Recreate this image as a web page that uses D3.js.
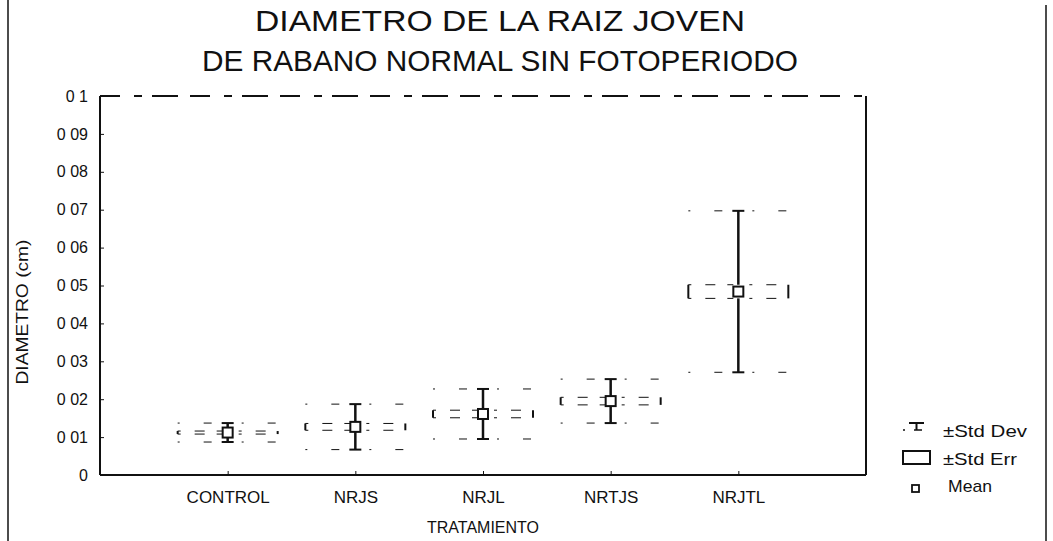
<!DOCTYPE html>
<html>
<head>
<meta charset="utf-8">
<script src="https://cdn.jsdelivr.net/npm/d3@7"></script>
<style>
  html, body { margin: 0; padding: 0; background: #fff; }
  svg { display: block; }
  text { font-family: "Liberation Sans", Arial, Helvetica, sans-serif; fill: #111; }
</style>
</head>
<body>
<svg id="chart" width="1053" height="541"></svg>
<script>
// ---- data ----
const titleLines = ["DIAMETRO DE LA RAIZ JOVEN", "DE RABANO NORMAL SIN FOTOPERIODO"];
const categories = ["CONTROL", "NRJS", "NRJL", "NRTJS", "NRJTL"];
const means  = [0.0112, 0.0127, 0.0161, 0.0195, 0.0484];
const stdErr = [0.0004, 0.0009, 0.0010, 0.0010, 0.0018];
const stdDev = [0.0025, 0.0060, 0.0066, 0.0058, 0.0213];
const yTickValues = [0, 0.01, 0.02, 0.03, 0.04, 0.05, 0.06, 0.07, 0.08, 0.09, 0.1];
const yTickLabels = ["0", "0 01", "0 02", "0 03", "0 04", "0 05", "0 06", "0 07", "0 08", "0 09", "0 1"];
const xAxisTitle = "TRATAMIENTO";
const yAxisTitle = "DIAMETRO (cm)";
const legendLabels = ["\u00b1Std Dev", "\u00b1Std Err", "Mean"];

// ---- layout ----
const svg = d3.select("#chart");
const plot = { left: 100, right: 866, top: 96, bottom: 475 };
const ink = "#111";

const x = d3.scalePoint().domain(categories).range([plot.left, plot.right]).padding(1);
const y = d3.scaleLinear().domain([0, 0.1]).range([plot.bottom, plot.top]);

// page border lines (scanned page)
svg.append("line").attr("x1", 8).attr("x2", 8).attr("y1", 0).attr("y2", 541)
  .attr("stroke", ink).attr("stroke-width", 1.5);
svg.append("line").attr("x1", 1046).attr("x2", 1046).attr("y1", 5).attr("y2", 541)
  .attr("stroke", ink).attr("stroke-width", 1.5);

// title
const titleWidths = [490, 596];
svg.append("g").selectAll("text").data(titleLines).join("text")
  .attr("x", 500).attr("y", (d, i) => 31 + i * 40)
  .attr("text-anchor", "middle").attr("font-size", 29)
  .attr("textLength", (d, i) => titleWidths[i]).attr("lengthAdjust", "spacingAndGlyphs")
  .text(d => d);

// frame
svg.append("line").attr("x1", plot.left).attr("x2", plot.left).attr("y1", plot.top).attr("y2", plot.bottom)
  .attr("stroke", ink).attr("stroke-width", 2);
svg.append("line").attr("x1", plot.right).attr("x2", plot.right).attr("y1", plot.top).attr("y2", plot.bottom)
  .attr("stroke", ink).attr("stroke-width", 2);
svg.append("line").attr("x1", plot.left).attr("x2", plot.right).attr("y1", plot.bottom).attr("y2", plot.bottom)
  .attr("stroke", ink).attr("stroke-width", 2);
svg.append("line").attr("x1", plot.left).attr("x2", plot.right).attr("y1", plot.top).attr("y2", plot.top)
  .attr("stroke", ink).attr("stroke-width", 2).attr("stroke-dasharray", "20,14,8,10,26,12");

// y axis (ticks inward, labels on the left)
const yAxis = d3.axisLeft(y).tickValues(yTickValues)
  .tickFormat((d, i) => yTickLabels[i]).tickSizeInner(-4).tickSizeOuter(0).tickPadding(12);
const gy = svg.append("g").attr("transform", `translate(${plot.left},0)`).call(yAxis);
gy.select(".domain").remove();
gy.selectAll("line").attr("stroke", ink);
gy.selectAll("text").attr("font-size", 16).attr("font-family", "Liberation Sans, Arial, sans-serif").attr("fill", ink);

// x axis
const xAxis = d3.axisBottom(x).tickSizeInner(-4).tickSizeOuter(0).tickPadding(16);
const gx = svg.append("g").attr("transform", `translate(0,${plot.bottom})`).call(xAxis);
gx.select(".domain").remove();
gx.selectAll("line").attr("stroke", ink);
gx.selectAll("text").attr("font-size", 17).attr("font-family", "Liberation Sans, Arial, sans-serif").attr("fill", ink);

// axis titles
svg.append("text").attr("x", 483).attr("y", 533).attr("text-anchor", "middle")
  .attr("font-size", 16).text(xAxisTitle);
svg.append("text").attr("transform", "translate(28,312) rotate(-90)").attr("text-anchor", "middle")
  .attr("font-size", 17).attr("textLength", 145).attr("lengthAdjust", "spacingAndGlyphs").text(yAxisTitle);

// ---- box plots ----
const halfW = 50;
const rows = categories.map((c, i) => ({ c, m: means[i], se: stdErr[i], sd: stdDev[i] }));
const g = svg.append("g");
const item = g.selectAll("g.item").data(rows).join("g").attr("class", "item");

// std err box: faint horizontal edges, visible short sides
["top", "bot"].forEach(k => {
  const cy = d => k === "top" ? y(d.m + d.se) : y(d.m - d.se);
  item.append("line").attr("x1", d => x(d.c) - halfW).attr("x2", d => x(d.c) + halfW)
    .attr("y1", cy).attr("y2", cy)
    .attr("stroke", ink).attr("stroke-width", 1).attr("stroke-dasharray", "3,14,10,12,6,16");
});
["l", "r"].forEach(k => {
  const cx = d => k === "l" ? x(d.c) - halfW : x(d.c) + halfW;
  item.append("line").attr("x1", cx).attr("x2", cx)
    .attr("y1", d => y(d.m + d.se)).attr("y2", d => y(d.m - d.se))
    .attr("stroke", ink).attr("stroke-width", 2);
});

// whisker stems
item.append("line").attr("x1", d => x(d.c)).attr("x2", d => x(d.c))
  .attr("y1", d => y(d.m + d.se)).attr("y2", d => y(d.m + d.sd))
  .attr("stroke", ink).attr("stroke-width", 2.5);
item.append("line").attr("x1", d => x(d.c)).attr("x2", d => x(d.c))
  .attr("y1", d => y(d.m - d.se)).attr("y2", d => y(d.m - d.sd))
  .attr("stroke", ink).attr("stroke-width", 2.5);

// whisker caps: faint wide part + solid centre
["top", "bot"].forEach(k => {
  const cy = d => k === "top" ? y(d.m + d.sd) : y(d.m - d.sd);
  item.append("line").attr("x1", d => x(d.c) - halfW).attr("x2", d => x(d.c) + halfW)
    .attr("y1", cy).attr("y2", cy)
    .attr("stroke", ink).attr("stroke-width", 1).attr("stroke-dasharray", "2,24,8,30");
  item.append("line").attr("x1", d => x(d.c) - 6).attr("x2", d => x(d.c) + 6)
    .attr("y1", cy).attr("y2", cy)
    .attr("stroke", ink).attr("stroke-width", 2);
});

// mean marker
item.append("rect")
  .attr("x", d => x(d.c) - 5).attr("y", d => y(d.m) - 5)
  .attr("width", 10).attr("height", 10)
  .attr("fill", "#fff").attr("stroke", ink).attr("stroke-width", 2);

// ---- legend ----
const lg = svg.append("g");
// std dev icon
lg.append("line").attr("x1", 909).attr("x2", 924).attr("y1", 423).attr("y2", 423).attr("stroke", ink).attr("stroke-width", 2);
lg.append("line").attr("x1", 916.5).attr("x2", 916.5).attr("y1", 423).attr("y2", 430).attr("stroke", ink).attr("stroke-width", 2);
lg.append("line").attr("x1", 903).attr("x2", 931).attr("y1", 430).attr("y2", 430).attr("stroke", ink).attr("stroke-width", 1.5).attr("stroke-dasharray", "2,9,8,9");
// std err icon
lg.append("rect").attr("x", 903).attr("y", 451).attr("width", 27).attr("height", 13)
  .attr("fill", "none").attr("stroke", ink).attr("stroke-width", 2);
// mean icon
lg.append("rect").attr("x", 912).attr("y", 485).attr("width", 7).attr("height", 7)
  .attr("fill", "#fff").attr("stroke", ink).attr("stroke-width", 1.8);

const legendWidths = [84, 74, 44];
lg.selectAll("text").data(legendLabels).join("text")
  .attr("x", (d, i) => i === 2 ? 948 : 943)
  .attr("y", (d, i) => [437, 465, 492][i])
  .attr("font-size", 17)
  .attr("textLength", (d, i) => legendWidths[i]).attr("lengthAdjust", "spacingAndGlyphs")
  .text(d => d);
</script>
</body>
</html>
